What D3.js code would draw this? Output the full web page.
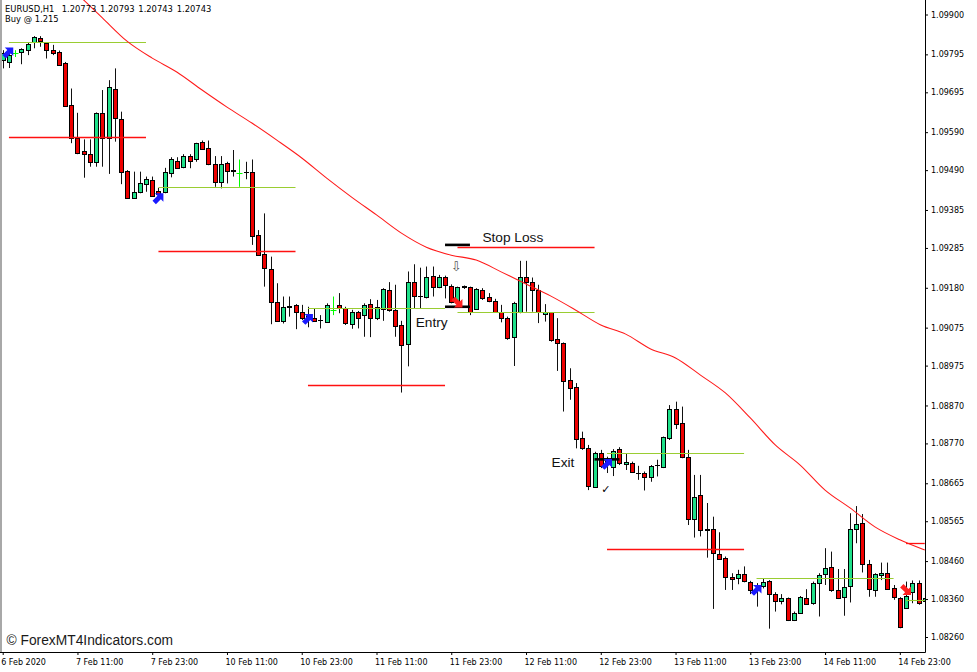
<!DOCTYPE html>
<html><head><meta charset="utf-8">
<script src="https://cdn.jsdelivr.net/npm/d3@7"></script>
<style>body{margin:0;background:#fff}svg{display:block}</style>
</head><body>
<svg id="c" width="977" height="672"></svg>
<script>
// ---------- DATA ----------
const open = [1.09780,1.09775,1.09798,1.09799,1.09806,1.09828,1.09837,1.09824,1.09806,1.09802,
1.09773,1.09661,1.09575,1.09541,1.09532,1.09512,1.09640,1.09574,1.09703,1.09626,
1.09488,1.09417,1.09430,1.09453,1.09464,1.09435,1.09432,1.09482,1.09515,1.09497,
1.09527,1.09518,1.09565,1.09547,1.09506,1.09458,1.09508,1.09488,1.09483,1.09486,
1.09484,1.09319,1.09268,1.09229,1.09143,1.09093,1.09129,1.09135,1.09116,1.09106,
1.09101,1.09095,1.09091,1.09122,1.09135,1.09126,1.09085,1.09116,1.09108,1.09137,
1.09100,1.09122,1.09174,1.09122,1.09082,1.09031,1.09195,1.09157,1.09157,1.09212,
1.09183,1.09208,1.09186,1.09145,1.09184,1.09181,1.09124,1.09174,1.09157,1.09145,
1.09116,1.09101,1.09049,1.09116,1.09208,1.09195,1.09174,1.09110,1.09116,1.09044,
1.09034,1.08937,1.08918,1.08784,1.08757,1.08656,1.08746,1.08727,1.08709,1.08755,
1.08716,1.08719,1.08693,1.08693,1.08683,1.08711,1.08707,1.08784,1.08861,1.08823,
1.08734,1.08573,1.08633,1.08541,1.08545,1.08478,1.08468,1.08418,1.08415,1.08425,
1.08406,1.08389,1.08395,1.08408,1.08373,1.08355,1.08362,1.08304,1.08323,1.08362,
1.08349,1.08403,1.08424,1.08444,1.08384,1.08365,1.08393,1.08544,1.08560,1.08453,
1.08384,1.08424,1.08428,1.08388,1.08362,1.08337,1.08380,1.08403,1.08353];
const high = [1.09806,1.09801,1.09806,1.09811,1.09827,1.09843,1.09843,1.09826,1.09820,1.09805,
1.09775,1.09705,1.09641,1.09571,1.09571,1.09642,1.09701,1.09727,1.09758,1.09644,
1.09490,1.09486,1.09486,1.09473,1.09473,1.09443,1.09496,1.09524,1.09524,1.09532,
1.09532,1.09562,1.09568,1.09568,1.09527,1.09527,1.09512,1.09543,1.09518,1.09512,
1.09518,1.09332,1.09376,1.09262,1.09192,1.09157,1.09157,1.09137,1.09135,1.09130,
1.09126,1.09108,1.09139,1.09157,1.09166,1.09130,1.09122,1.09119,1.09139,1.09150,
1.09148,1.09179,1.09195,1.09188,1.09093,1.09223,1.09242,1.09233,1.09236,1.09236,
1.09214,1.09212,1.09189,1.09183,1.09186,1.09183,1.09179,1.09179,1.09166,1.09151,
1.09135,1.09104,1.09143,1.09251,1.09251,1.09207,1.09188,1.09137,1.09116,1.09100,
1.09036,1.08968,1.08929,1.08801,1.08766,1.08748,1.08753,1.08735,1.08755,1.08760,
1.08744,1.08722,1.08711,1.08696,1.08713,1.08727,1.08788,1.08871,1.08880,1.08867,
1.08753,1.08687,1.08687,1.08613,1.08577,1.08536,1.08472,1.08428,1.08437,1.08446,
1.08408,1.08402,1.08415,1.08410,1.08378,1.08373,1.08364,1.08327,1.08368,1.08386,
1.08406,1.08428,1.08494,1.08485,1.08439,1.08439,1.08586,1.08605,1.08584,1.08463,
1.08428,1.08456,1.08456,1.08397,1.08365,1.08406,1.08409,1.08409,1.08368];
const low = [1.09758,1.09759,1.09788,1.09769,1.09793,1.09811,1.09815,1.09784,1.09793,1.09766,
1.09657,1.09561,1.09532,1.09470,1.09499,1.09499,1.09499,1.09480,1.09565,1.09453,
1.09414,1.09416,1.09429,1.09433,1.09420,1.09409,1.09429,1.09471,1.09495,1.09495,
1.09495,1.09512,1.09543,1.09503,1.09446,1.09442,1.09455,1.09473,1.09446,1.09466,
1.09293,1.09264,1.09183,1.09084,1.09091,1.09086,1.09104,1.09071,1.09095,1.09076,
1.09091,1.09073,1.09088,1.09108,1.09113,1.09082,1.09072,1.09073,1.09051,1.09050,
1.09095,1.09093,1.09117,1.09051,1.08904,1.08973,1.09126,1.09126,1.09152,1.09157,
1.09179,1.09152,1.09139,1.09143,1.09177,1.09108,1.09122,1.09148,1.09142,1.09116,
1.09089,1.09043,1.08974,1.09113,1.09117,1.09117,1.09087,1.09091,1.09038,1.08961,
1.08854,1.08885,1.08757,1.08753,1.08647,1.08655,1.08705,1.08692,1.08684,1.08713,
1.08700,1.08692,1.08674,1.08646,1.08669,1.08683,1.08705,1.08779,1.08808,1.08731,
1.08555,1.08522,1.08525,1.08469,1.08334,1.08463,1.08384,1.08384,1.08399,1.08404,
1.08373,1.08340,1.08388,1.08282,1.08327,1.08346,1.08302,1.08302,1.08321,1.08345,
1.08345,1.08314,1.08397,1.08379,1.08360,1.08316,1.08351,1.08507,1.08430,1.08366,
1.08366,1.08410,1.08384,1.08358,1.08283,1.08336,1.08349,1.08345,1.08345];
const close = [1.09798,1.09793,1.09798,1.09808,1.09822,1.09840,1.09828,1.09806,1.09799,1.09769,
1.09660,1.09574,1.09536,1.09532,1.09512,1.09640,1.09574,1.09708,1.09626,1.09486,
1.09418,1.09432,1.09455,1.09467,1.09423,1.09427,1.09484,1.09518,1.09497,1.09527,
1.09515,1.09561,1.09547,1.09506,1.09459,1.09506,1.09488,1.09490,1.09483,1.09485,
1.09316,1.09266,1.09231,1.09142,1.09093,1.09129,1.09132,1.09116,1.09100,1.09101,
1.09093,1.09096,1.09135,1.09122,1.09128,1.09087,1.09116,1.09101,1.09135,1.09100,
1.09129,1.09176,1.09120,1.09080,1.09028,1.09195,1.09157,1.09158,1.09209,1.09183,
1.09209,1.09186,1.09145,1.09181,1.09182,1.09116,1.09177,1.09152,1.09146,1.09117,
1.09101,1.09049,1.09139,1.09208,1.09195,1.09174,1.09116,1.09116,1.09043,1.09034,
1.08935,1.08915,1.08781,1.08757,1.08656,1.08746,1.08713,1.08721,1.08751,1.08718,
1.08722,1.08694,1.08692,1.08683,1.08711,1.08712,1.08786,1.08861,1.08822,1.08734,
1.08570,1.08630,1.08542,1.08544,1.08481,1.08466,1.08417,1.08412,1.08425,1.08406,
1.08384,1.08384,1.08406,1.08373,1.08355,1.08362,1.08304,1.08323,1.08365,1.08347,
1.08403,1.08424,1.08441,1.08384,1.08362,1.08391,1.08544,1.08558,1.08453,1.08386,
1.08426,1.08428,1.08386,1.08365,1.08286,1.08368,1.08403,1.08351,1.08362];

// moving average (red line), sampled every 4 bars
const maBars   = [12,16,20,24,28,32,36,40,44,48,52,56,60,64,68,72,76,80,84,88,92,96,100,104,108,112,116,120,124,128,132,136,140,144,148];
const maValues = [1.09954,1.09891,1.09829,1.09785,1.09748,1.09701,1.09656,1.09614,1.09569,1.09522,1.09469,1.09419,1.09372,1.09324,1.09287,1.09266,1.09253,1.09222,1.09190,1.09158,1.09121,1.09082,1.09058,1.09019,1.08995,1.08950,1.08903,1.08837,1.08766,1.08713,1.08647,1.08600,1.08550,1.08516,1.08489];

// level segments [startBar, endBar, price]
const entryLevels = [[1,23,1.09827],[25,47,1.09445],[49,71,1.09127],[73,95,1.09115],[97,119,1.08744],[121,143,1.08415],[145,148,1.08358]];
const stopLevels  = [[1,23,1.09578],[25,47,1.09278],[49,71,1.08924],[73,95,1.09287],[97,119,1.08492],[145,148,1.08508]];
const markerLevels = [[71,75,1.09293],[71,75,1.09130],[95,99,1.08728]];

// signal arrows [bar, price]
const buyArrows  = [[0.9,1.09800],[25,1.09416],[49,1.09098],[97,1.08716],[121,1.08384]];
const sellArrows = [[73,1.09141],[145,1.08384]];

// annotations [bar, price, text]
const notes = [[77,1.09301,"Stop Loss"],[66.3,1.09078,"Entry"],[88.1,1.08708,"Exit"]];
const symbols = [[72.8,1.09225,"\u21E9",13,"#555"],[96.8,1.08640,"\u2713",11,"#000"]];

const priceTicks = [1.09900,1.09795,1.09695,1.09590,1.09490,1.09385,1.09285,1.09180,1.09075,1.08975,1.08870,1.08770,1.08665,1.08565,1.08460,1.08360,1.08260];
const timeTickBars = [0,12,24,36,48,60,72,84,96,108,120,132,144];
const timeLabels = ["6 Feb 2020","7 Feb 11:00","7 Feb 23:00","10 Feb 11:00","10 Feb 23:00","11 Feb 11:00","11 Feb 23:00","12 Feb 11:00","12 Feb 23:00","13 Feb 11:00","13 Feb 23:00","14 Feb 11:00","14 Feb 23:00"];

// ---------- DRAW ----------
const svg = d3.select('#c');
const plotR = 925, plotB = 652;
const x = d3.scaleLinear().domain([0,148]).range([2.7, 2.7+6.23*148]);
const y = d3.scaleLinear().domain([1.08260,1.09900]).range([637,14.5]);
const cx = i => Math.round(x(i)) + 0.5;

svg.append('rect').attr('width',977).attr('height',672).attr('fill','#fff');
svg.append('defs').append('clipPath').attr('id','clip')
  .append('rect').attr('x',2).attr('y',0).attr('width',plotR-2).attr('height',plotB);

const plot = svg.append('g').attr('clip-path','url(#clip)');

const idx = d3.range(open.length);
const BULL = '#1ee089', BEAR = '#ee0000';

// wicks
plot.append('g').attr('class','wicks').selectAll('line').data(idx).join('line')
  .attr('x1', i => cx(i)).attr('x2', i => cx(i))
  .attr('y1', i => y(high[i])).attr('y2', i => y(low[i]))
  .style('stroke', i => open[i] === close[i] ? '#00ff00' : '#111')
  .style('stroke-width', 1);

// bodies
plot.append('g').attr('class','bodies').selectAll('rect').data(idx.filter(i => open[i] !== close[i])).join('rect')
  .attr('x', i => cx(i) - 2)
  .attr('y', i => Math.round(y(Math.max(open[i],close[i]))) + 0.5)
  .attr('width', 4)
  .attr('height', i => Math.max(0.01, Math.round(Math.abs(y(open[i]) - y(close[i])))))
  .style('fill', i => close[i] > open[i] ? BULL : BEAR)
  .style('stroke', '#000').style('stroke-width', 1);

// doji crosses (open == close)
plot.append('g').attr('class','doji').selectAll('line').data(idx.filter(i => open[i] === close[i])).join('line')
  .attr('x1', i => cx(i) - 3).attr('x2', i => cx(i) + 3)
  .attr('y1', i => Math.round(y(open[i])) + 0.5).attr('y2', i => Math.round(y(open[i])) + 0.5)
  .style('stroke', '#00ff00').style('stroke-width', 1);

// level lines
plot.append('g').attr('class','entry').selectAll('line').data(entryLevels).join('line')
  .attr('x1', d => x(d[0])).attr('x2', d => x(d[1]))
  .attr('y1', d => Math.round(y(d[2])) + 0.5).attr('y2', d => Math.round(y(d[2])) + 0.5)
  .style('stroke', '#9acd32').style('stroke-width', 1.1);
plot.append('g').attr('class','stop').selectAll('line').data(stopLevels).join('line')
  .attr('x1', d => x(d[0])).attr('x2', d => x(d[1]))
  .attr('y1', d => Math.round(y(d[2])) + 0.5).attr('y2', d => Math.round(y(d[2])) + 0.5)
  .style('stroke', '#ff1010').style('stroke-width', 1.3);
plot.append('g').attr('class','markers').selectAll('line').data(markerLevels).join('line')
  .attr('x1', d => x(d[0])).attr('x2', d => x(d[1]))
  .attr('y1', d => y(d[2])).attr('y2', d => y(d[2]))
  .style('stroke', '#000').style('stroke-width', 2.6);

// moving average
plot.append('path')
  .datum(d3.zip(maBars, maValues))
  .attr('d', d3.line().x(d => x(d[0])).y(d => y(d[1])).curve(d3.curveMonotoneX))
  .style('fill', 'none').style('stroke', '#ff1a1a').style('stroke-width', 1.05);

// arrows
const arrowPath = 'M0,-7 L6,-1 L2.4,-1 L2.4,6 L-2.4,6 L-2.4,-1 L-6,-1 Z';
plot.append('g').selectAll('path').data(buyArrows).join('path')
  .attr('d', arrowPath)
  .attr('transform', d => `translate(${x(d[0])},${y(d[1])}) rotate(45)`)
  .style('fill', '#1a1aff');
plot.append('g').selectAll('path').data(sellArrows).join('path')
  .attr('d', arrowPath)
  .attr('transform', d => `translate(${x(d[0])},${y(d[1])}) rotate(135)`)
  .style('fill', '#ff2020');

// annotations
plot.append('g').selectAll('text').data(notes).join('text')
  .attr('x', d => x(d[0])).attr('y', d => y(d[1]))
  .attr('font-family', "'Liberation Sans', Arial, sans-serif")
  .attr('font-size', 13.7).style('fill', '#111')
  .text(d => d[2]);
plot.append('g').selectAll('text').data(symbols).join('text')
  .attr('x', d => x(d[0])).attr('y', d => y(d[1]))
  .attr('text-anchor', 'middle')
  .attr('font-family', "'DejaVu Sans', sans-serif")
  .attr('font-size', d => d[3]).style('fill', d => d[4])
  .text(d => d[2]);

// left border
svg.append('rect').attr('x',0).attr('y',0).attr('width',2).attr('height',plotB).style('fill','#a8a8a8');

// axes
const fontAxis = "'DejaVu Sans', Verdana, sans-serif";
const gx = svg.append('g').attr('transform', `translate(0,${plotB})`)
  .call(d3.axisBottom(x).tickValues(timeTickBars).tickFormat((d,i) => timeLabels[i]).tickSize(3).tickPadding(4));
gx.select('.domain').remove();
gx.selectAll('text').attr('text-anchor','start').attr('dx', -2)
  .attr('font-family', fontAxis).attr('font-size', 8).style('fill','#000');
gx.selectAll('line').style('stroke','#000');
svg.append('line').attr('x1',0).attr('x2',plotR+0.5).attr('y1',plotB+0.5).attr('y2',plotB+0.5).style('stroke','#000');

const gy = svg.append('g').attr('transform', `translate(${plotR},0)`)
  .call(d3.axisRight(y).tickValues(priceTicks).tickFormat(d3.format('.5f')).tickSize(3).tickPadding(3));
gy.select('.domain').remove();
gy.selectAll('text').attr('font-family', fontAxis).attr('font-size', 8).style('fill','#000');
gy.selectAll('line').style('stroke','#000');
svg.append('line').attr('x1',plotR+0.5).attr('x2',plotR+0.5).attr('y1',0).attr('y2',plotB+0.5).style('stroke','#000');

// header
const hdr = svg.append('g').attr('font-family', fontAxis).attr('font-size', 8.4).style('fill','#000');
const headerParts = [["EURUSD,H1",5],["1.20773",61.7],["1.20793",100],["1.20743",138.3],["1.20743",176.7]];
hdr.selectAll('text.h').data(headerParts).join('text').attr('class','h')
  .attr('x', d => d[1]).attr('y', 12).text(d => d[0]);
hdr.append('text').attr('x',5).attr('y',21.5).text('Buy @ 1.215');

// watermark
svg.append('text').attr('x',6.5).attr('y',645)
  .attr('font-family', "'Liberation Sans', Arial, sans-serif").attr('font-size', 13.8).style('fill','#1a1a1a')
  .text('\u00A9 ForexMT4Indicators.com');
</script>
</body></html>
